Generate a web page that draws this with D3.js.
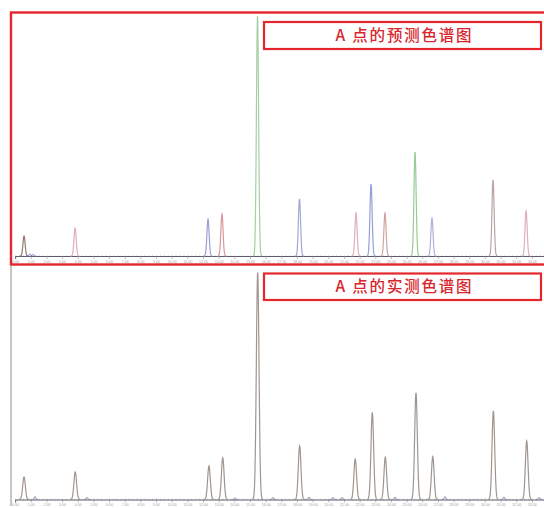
<!DOCTYPE html>
<html>
<head>
<meta charset="utf-8">
<script src="https://cdn.jsdelivr.net/npm/d3@7"></script>
<style>
  body { margin: 0; background: #fff; }
  svg { display: block; }
</style>
</head>
<body>
<svg id="chart" width="544" height="508"></svg>
<script>
// Retention times (min) and relative responses (% of tallest peak)
const predictedTimes   = [0.57, 3.83, 12.32, 13.21, 15.48, 18.16, 21.77, 22.73, 23.62, 25.54, 26.62, 30.52, 32.63];
const predictedHeights = [8.3, 11.7, 15.4, 17.5, 100, 23.8, 17.9, 30.0, 17.9, 43.3, 15.8, 31.7, 18.8];

const measuredTimes    = [0.57, 3.84, 12.38, 13.26, 15.49, 18.17, 21.72, 22.81, 23.64, 25.60, 26.67, 30.54, 32.67];
const measuredHeights  = [9.9, 12.1, 14.8, 18.4, 100, 23.6, 17.8, 38.4, 18.6, 47.0, 18.9, 39.0, 25.8];

// Small trace responses on the measured baseline
const traceTimes   = [1.27, 4.59, 14.04, 16.47, 18.77, 20.30, 20.88, 24.26, 27.45, 31.22, 33.46];
const traceHeights = [1.3, 0.9, 0.7, 0.9, 1.1, 0.9, 0.9, 1.1, 1.3, 1.1, 0.9];

// Predicted-trace small responses
const predTraceTimes   = [0.95, 1.15];
const predTraceHeights = [0.9, 0.7];

const tickValues = [0,1,2,3,4,5,6,7,8,9,10,11,12,13,14,15,16,17,18,19,20,21,22,23,24,25,26,27,28,29,30,31,32,33];
const titles = ["A 点的预测色谱图", "A 点的实测色谱图"];

// One stroke colour per predicted compound
const predictedPalette = ["#957a6e", "#dfb0b8", "#9aa0d2", "#d9999c", "#a5cfa5", "#a3a8d6",
                          "#deb0bd", "#979edb", "#d0a4a1", "#98cb98", "#b2b0de", "#bea2a2", "#dfb0bd"];

const svg = d3.select("#chart");
const RED = "#e5262c";

const x = d3.scaleLinear().domain([0, 35]).range([15.1, 15.1 + 35 * 15.66]);

const panels = [
  { y: d3.scaleLinear().domain([0, 100]).range([256, 16]),
    clip: [12, 13, 532, 251], box: [264, 22, 277, 27] },
  { y: d3.scaleLinear().domain([0, 100]).range([499.5, 272.5]),
    clip: [11, 266, 533, 242], box: [264, 273.5, 277, 26.5] }
];

const defs = svg.append("defs");
panels.forEach((p, i) => {
  defs.append("clipPath").attr("id", "clip" + i)
    .append("rect").attr("x", p.clip[0]).attr("y", p.clip[1])
    .attr("width", p.clip[2]).attr("height", p.clip[3]);
});

function peakPoints(t0, h, sigma) {
  const pts = [];
  const n = 48;
  for (let k = 0; k <= n; k++) {
    const t = t0 - 4 * sigma + (8 * sigma * k) / n;
    pts.push([t, h * Math.exp(-((t - t0) ** 2) / (2 * sigma * sigma))]);
  }
  return pts;
}

function drawAxis(g, yScale) {
  const base = yScale(0);
  // minor graduations along the baseline
  const minor = d3.axisBottom(x).tickValues(d3.range(0, 35, 0.25)).tickSize(2).tickFormat("");
  g.append("g").attr("transform", `translate(0,${base - 1})`).call(minor)
    .call(s => s.select(".domain").remove())
    .call(s => s.selectAll("line").attr("stroke", "#b8bcc8").attr("stroke-width", 0.5));
  const major = d3.axisBottom(x).tickValues(tickValues).tickSize(3).tickPadding(1)
    .tickFormat(d3.format(".2f"));
  g.append("g").attr("transform", `translate(0,${base})`).call(major)
    .call(s => s.select(".domain").attr("stroke", "#5b5d68").attr("stroke-width", 1.1))
    .call(s => s.selectAll(".tick line").attr("stroke", "#8a8c96").attr("stroke-width", 0.6))
    .call(s => s.selectAll("text").attr("fill", "#a3a3a8").attr("font-size", 3.6)
      .attr("font-family", "Liberation Sans, Arial, sans-serif"));
}

const line = (yScale) => d3.line().x(d => x(d[0])).y(d => yScale(d[1]));

// ---- predicted chromatogram ----
{
  const p = panels[0];
  const g = svg.append("g").attr("clip-path", "url(#clip0)");
  drawAxis(g, p.y);
  g.selectAll("path.peak").data(predictedTimes.map((t, i) => ({ t, h: predictedHeights[i], c: predictedPalette[i] })))
    .join("path").attr("class", "peak")
    .attr("d", d => line(p.y)(peakPoints(d.t, d.h, 0.07)))
    .attr("fill", "none").attr("stroke", d => d.c).attr("stroke-width", 1.2);
  g.selectAll("path.trace").data(predTraceTimes.map((t, i) => ({ t, h: predTraceHeights[i] })))
    .join("path").attr("class", "trace")
    .attr("d", d => line(p.y)(peakPoints(d.t, d.h, 0.05)))
    .attr("fill", "none").attr("stroke", "#6f7fc0").attr("stroke-width", 1);
}

// ---- measured chromatogram ----
{
  const p = panels[1];
  const g = svg.append("g").attr("clip-path", "url(#clip1)");
  drawAxis(g, p.y);
  g.selectAll("path.trace").data(traceTimes.map((t, i) => ({ t, h: traceHeights[i] })))
    .join("path").attr("class", "trace")
    .attr("d", d => line(p.y)(peakPoints(d.t, d.h, 0.05)))
    .attr("fill", "none").attr("stroke", "#7a7fa8").attr("stroke-width", 1);
  g.selectAll("path.peak").data(measuredTimes.map((t, i) => ({ t, h: measuredHeights[i] })))
    .join("path").attr("class", "peak")
    .attr("d", d => line(p.y)(peakPoints(d.t, d.h, 0.085)))
    .attr("fill", "none").attr("stroke", "#a0968f").attr("stroke-width", 1.2);
  // signal axis
  svg.append("line").attr("x1", 11).attr("x2", 11).attr("y1", 266).attr("y2", 506)
    .attr("stroke", "#8d8d8d").attr("stroke-width", 1);
}

// ---- frames and titles ----
svg.append("rect").attr("x", 11).attr("y", 12.5).attr("width", 560).attr("height", 252)
  .attr("fill", "none").attr("stroke", RED).attr("stroke-width", 2.4);

panels.forEach((p, i) => {
  const [bx, by, bw, bh] = p.box;
  svg.append("rect").attr("x", bx).attr("y", by).attr("width", bw).attr("height", bh)
    .attr("fill", "#fff").attr("stroke", RED).attr("stroke-width", 2.2);
  svg.append("text").attr("x", bx + bw / 2 + 2).attr("y", by + bh / 2 + 1)
    .attr("text-anchor", "middle").attr("dominant-baseline", "middle")
    .attr("font-family", "Noto Sans CJK SC, sans-serif").attr("font-weight", 500)
    .attr("font-size", 15.5).attr("letter-spacing", 1.8)
    .attr("fill", "#d8262d").text(titles[i]);
});
</script>
</body>
</html>
